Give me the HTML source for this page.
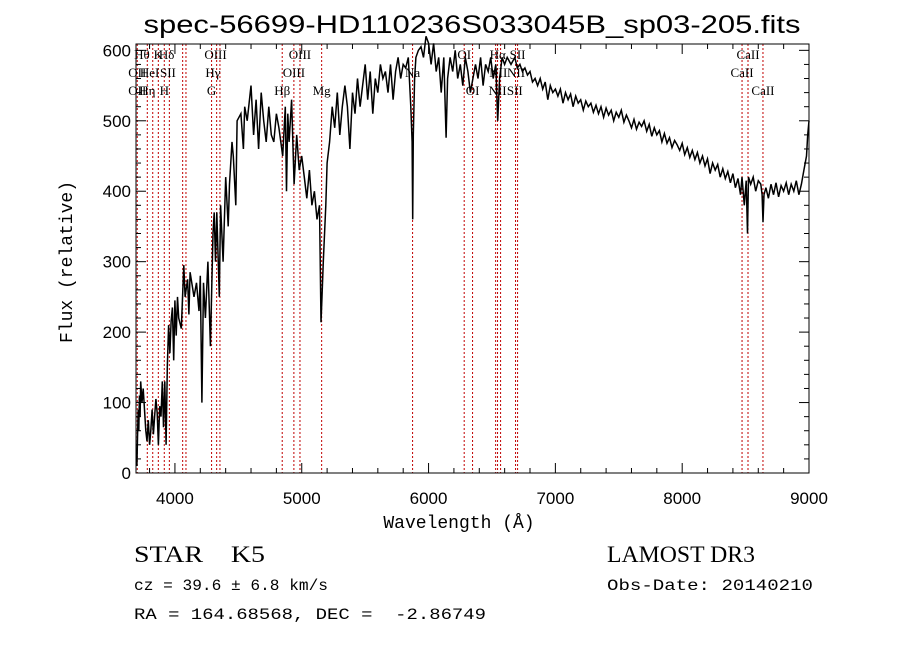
<!DOCTYPE html>
<html><head><meta charset="utf-8"><style>
body{margin:0;background:#fff;}
svg{display:block;}
text{fill:#000;}
</style></head><body>
<svg id="chart" width="900" height="649" xmlns="http://www.w3.org/2000/svg">
<rect width="900" height="649" fill="#fff"/>
<text x="472" y="33" text-anchor="middle" font-family="Liberation Sans, sans-serif" font-size="25" textLength="657" lengthAdjust="spacingAndGlyphs">spec-56699-HD110236S033045B_sp03-205.fits</text>
<text x="459" y="528" text-anchor="middle" font-family="Liberation Mono, monospace" font-size="18">Wavelength (Å)</text>
<text transform="translate(72,262) rotate(-90)" text-anchor="middle" font-family="Liberation Mono, monospace" font-size="18">Flux (relative)</text>
<text x="134" y="562" font-family="Liberation Serif, serif" font-size="23" textLength="131" lengthAdjust="spacingAndGlyphs">STAR&#160;&#160;&#160;&#160;K5</text>
<text x="607" y="562" font-family="Liberation Serif, serif" font-size="23" textLength="148" lengthAdjust="spacingAndGlyphs">LAMOST DR3</text>
<text x="134" y="590" font-family="Liberation Mono, monospace" font-size="16" textLength="194" lengthAdjust="spacingAndGlyphs">cz = 39.6 ± 6.8 km/s</text>
<text x="607" y="590" font-family="Liberation Mono, monospace" font-size="16" textLength="206" lengthAdjust="spacingAndGlyphs">Obs-Date: 20140210</text>
<text x="134" y="619" font-family="Liberation Mono, monospace" font-size="16" textLength="352" lengthAdjust="spacingAndGlyphs">RA = 164.68568, DEC = &#160;-2.86749</text>
<g id="plot"></g>
</svg>
<script>
const xTicks=[4000,5000,6000,7000,8000,9000];
const yTicks=[0,100,200,300,400,500,600];
const wave=[
3700,3705,3710,3715,3720,3725,3730,3740,3750,3760,
3770,3780,3790,3800,3810,3820,3830,3840,3850,3860,
3870,3880,3890,3900,3910,3920,3930,3940,3950,3960,
3970,3980,3990,4000,4010,4020,4030,4050,4070,4080,
4100,4110,4120,4150,4170,4190,4200,4213,4225,4240,
4260,4280,4300,4310,4320,4330,4350,4360,4380,4400,
4420,4430,4450,4460,4480,4490,4520,4540,4550,4570,
4600,4620,4640,4660,4680,4700,4720,4740,4760,4780,
4800,4820,4850,4870,4880,4890,4900,4920,4940,4960,
4980,5000,5020,5040,5060,5080,5100,5120,5140,5152,
5160,5170,5190,5200,5220,5240,5260,5280,5300,5320,
5340,5360,5380,5400,5420,5440,5460,5480,5500,5520,
5540,5560,5580,5600,5620,5640,5660,5680,5700,5720,
5740,5760,5780,5800,5820,5840,5860,5870,5875,5880,
5890,5900,5920,5940,5960,5980,6000,6020,6040,6060,
6080,6100,6120,6138,6150,6170,6190,6210,6230,6250,
6270,6290,6310,6330,6350,6370,6390,6410,6430,6450,
6470,6490,6510,6530,6545,6560,6580,6600,6620,6650,
6680,6700,6720,6740,6760,6780,6800,6820,6840,6860,
6880,6900,6920,6940,6960,6980,7000,7020,7040,7060,
7080,7100,7120,7140,7160,7180,7200,7220,7240,7260,
7280,7300,7320,7340,7360,7380,7400,7420,7440,7460,
7480,7500,7520,7540,7560,7580,7600,7620,7640,7660,
7680,7700,7720,7740,7760,7780,7800,7820,7840,7860,
7880,7900,7920,7940,7960,7980,8000,8020,8040,8060,
8080,8100,8120,8140,8160,8180,8200,8220,8240,8260,
8280,8300,8320,8340,8360,8380,8400,8420,8440,8460,
8472,8490,8505,8515,8523,8540,8560,8580,8600,8620,
8630,8637,8645,8660,8680,8700,8720,8740,8760,8780,
8800,8820,8840,8860,8880,8900,8920,8940,8960,8980,
8990,9000];
const flux=[
10,50,90,60,110,80,130,100,120,90,
60,45,75,40,60,90,55,80,105,85,
40,95,80,130,65,130,40,150,210,170,
215,235,160,245,195,250,220,205,295,250,
275,225,285,250,270,230,280,100,270,220,
300,180,340,370,300,370,250,380,300,420,
350,410,470,450,380,500,510,460,520,500,
550,480,530,460,540,500,470,520,480,470,
510,490,450,520,400,510,470,530,410,480,
430,450,420,390,430,380,400,360,380,214,
250,300,380,440,470,520,490,540,480,520,
550,520,460,540,510,560,520,550,580,530,
570,510,560,540,580,560,570,540,580,530,
570,590,560,580,575,590,520,470,360,480,
560,590,600,605,590,620,610,580,610,570,
590,540,590,476,560,590,570,600,560,580,
550,590,570,540,560,580,560,590,550,580,
570,590,560,580,500,560,590,580,590,580,
590,575,580,570,575,565,570,555,560,550,
560,545,555,530,550,540,545,535,545,525,
540,530,538,520,535,525,530,515,528,520,
525,512,522,510,520,505,518,508,515,500,
512,505,515,498,508,500,490,502,488,498,
492,500,485,495,478,490,480,486,470,482,
468,476,462,472,466,458,468,452,462,448,
458,445,455,440,450,436,446,425,440,430,
438,420,432,418,428,412,425,405,418,395,
420,380,415,340,420,410,420,400,415,410,
395,356,395,405,390,410,395,412,392,408,
400,412,395,410,400,415,395,410,430,450,
480,500];
const lineWaves=[3703,3782,3825,3869,3916,3956,4061,4087,4289,4329,4355,4846,4938,4986,5157,5874,6281,6347,6529,6544,6568,6686,6702,8472,8519,8637];
const labelNames=["Hθ","K","Hδ","OIII","OIII","OI","Hα","SII","CaII","OII","HeI","SII","Hγ","OIII","Na","NII","NII","CaII","OII","Hη","H","G","Hβ","Mg","OI","NII","SII","CaII"];
const labelWaves=[3740,3869,3935,4320,4986,6281,6545,6702,8519,3703,3800,3945,4300,4938,5874,6550,6690,8472,3703,3782,3916,4289,4846,5157,6347,6544,6680,8637];
const labelRows=[0,0,0,0,0,0,0,0,0,1,1,1,1,1,1,1,1,1,2,2,2,2,2,2,2,2,2,2];

const L=136,R=809,T=44,B=473,XMIN=3693,XMAX=9000,YMIN=0,YMAX=609;
const sx=w=>L+(w-XMIN)/(XMAX-XMIN)*(R-L);
const sy=v=>B-(v-YMIN)/(YMAX-YMIN)*(B-T);
const NS="http://www.w3.org/2000/svg";
const g=document.getElementById('plot');
function mk(tag,attrs){const e=document.createElementNS(NS,tag);for(const k in attrs)e.setAttribute(k,attrs[k]);g.appendChild(e);return e;}

lineWaves.forEach(w=>{
  const e=mk('line',{x1:sx(w),x2:sx(w),y1:T,y2:B,stroke:'#c00000','stroke-width':1,'stroke-dasharray':'2,2'});
  
  
});
labelNames.forEach((n,i)=>{
  const t=mk('text',{x:sx(labelWaves[i]),y:59+labelRows[i]*18,'text-anchor':'middle','font-family':'Liberation Serif, serif','font-size':13});
  t.textContent=n;
  
  
});
let d='';
const n=Math.min(wave.length,flux.length);
for(let i=0;i<n;i++){d+=(i?'L':'M')+sx(wave[i]).toFixed(1)+','+sy(flux[i]).toFixed(1);}
const p=mk('path',{d:d,fill:'none',stroke:'#000','stroke-width':1.5});



const fr=mk('rect',{x:L,y:T,width:R-L,height:B-T,fill:'none',stroke:'#000','stroke-width':1});


for(let w=3800;w<=9000;w+=200){
  const major=w%1000===0;const len=major?10:5;
  mk('line',{x1:sx(w),x2:sx(w),y1:B,y2:B-len,stroke:'#000'});
  mk('line',{x1:sx(w),x2:sx(w),y1:T,y2:T+len,stroke:'#000'});
}
xTicks.forEach(w=>{
  const t=mk('text',{x:sx(w),y:B+31,'text-anchor':'middle','font-family':'Liberation Sans, sans-serif','font-size':17});
  t.textContent=w;
  
  
});
for(let v=0;v<=600;v+=20){
  const major=v%100===0;const len=major?10:5;
  mk('line',{x1:L,x2:L+len,y1:sy(v),y2:sy(v),stroke:'#000'});
  mk('line',{x1:R,x2:R-len,y1:sy(v),y2:sy(v),stroke:'#000'});
}
yTicks.forEach(v=>{
  const t=mk('text',{x:L-5,y:sy(v)+6,'text-anchor':'end','font-family':'Liberation Sans, sans-serif','font-size':17});
  t.textContent=v;
  
  
});
</script>
</body></html>
